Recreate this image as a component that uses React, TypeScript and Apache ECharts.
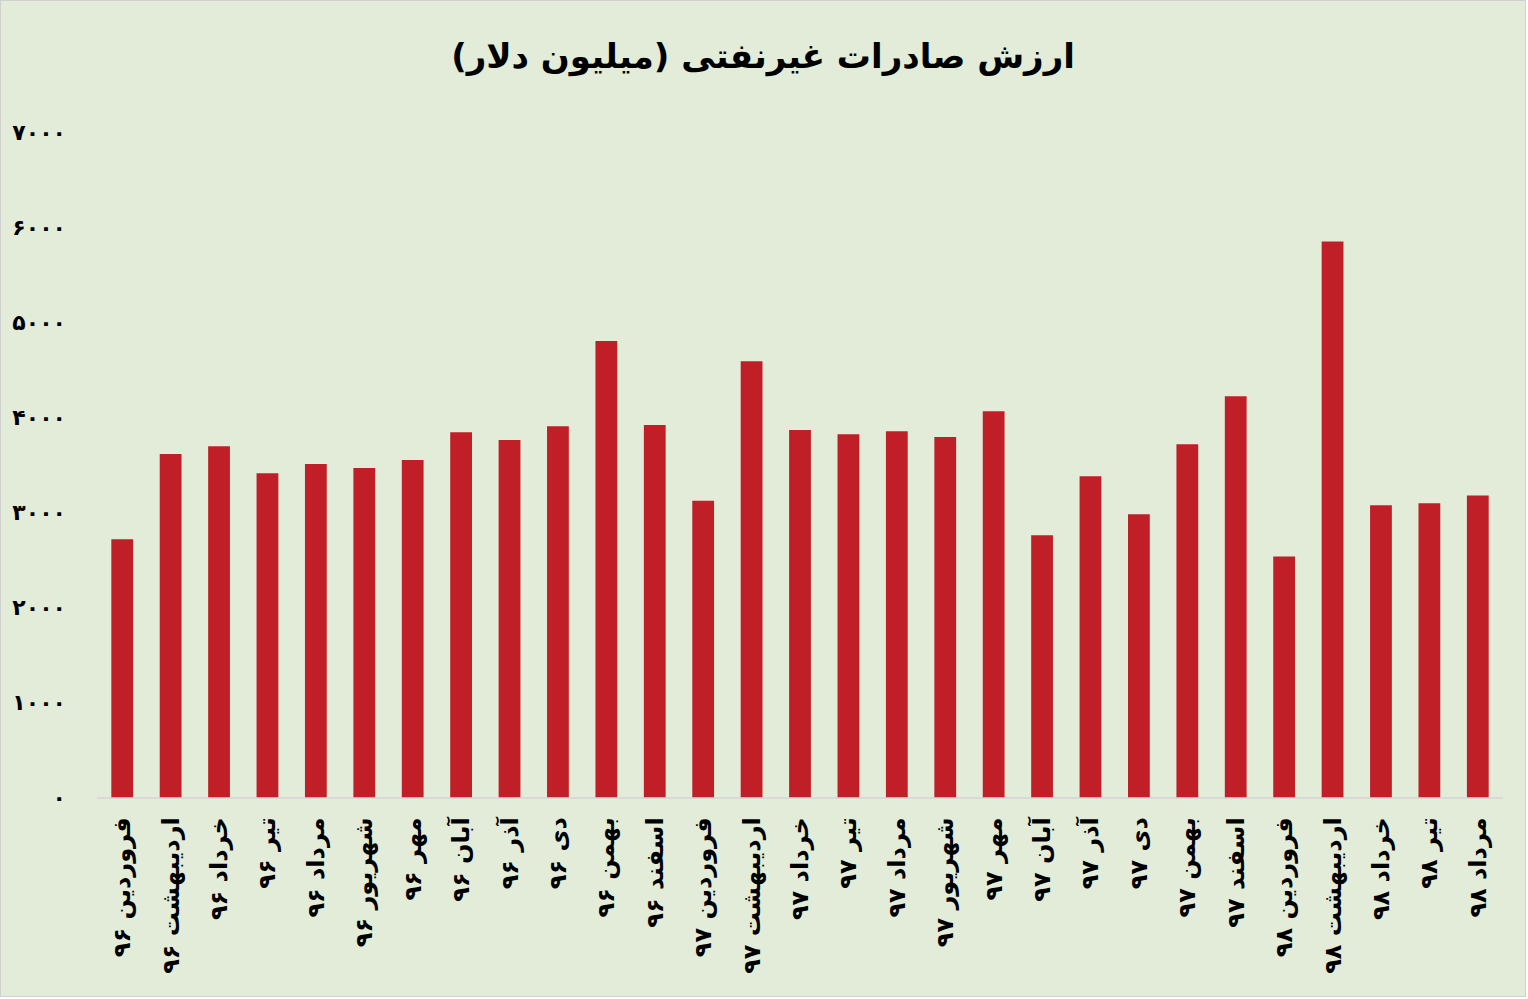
import React, { useEffect, useRef } from "react";
import * as echarts from "echarts";

const categories: string[] = [
  "فروردین ۹۶", "اردیبهشت ۹۶", "خرداد ۹۶", "تیر ۹۶", "مرداد ۹۶", "شهریور ۹۶",
  "مهر ۹۶", "آبان ۹۶", "آذر ۹۶", "دی ۹۶", "بهمن ۹۶", "اسفند ۹۶",
  "فروردین ۹۷", "اردیبهشت ۹۷", "خرداد ۹۷", "تیر ۹۷", "مرداد ۹۷", "شهریور ۹۷",
  "مهر ۹۷", "آبان ۹۷", "آذر ۹۷", "دی ۹۷", "بهمن ۹۷", "اسفند ۹۷",
  "فروردین ۹۸", "اردیبهشت ۹۸", "خرداد ۹۸", "تیر ۹۸", "مرداد ۹۸",
];

const values: number[] = [
  2717, 3616, 3697, 3412, 3510, 3468, 3553, 3845, 3763, 3908, 4807, 3922,
  3124, 4593, 3869, 3823, 3855, 3795, 4066, 2759, 3381, 2980, 3718, 4224,
  2537, 5854, 3075, 3096, 3180,
];

const yTicks: number[] = [0, 1000, 2000, 3000, 4000, 5000, 6000, 7000];

const titleText = "ارزش صادرات غیرنفتی (میلیون دلار)";

const toFa = (v: number | string) =>
  String(v).replace(/\d/g, (d) => "۰۱۲۳۴۵۶۷۸۹"[Number(d)]);

const FONT = "'DejaVu Sans', sans-serif";

export default function App() {
  const ref = useRef<HTMLDivElement>(null);

  useEffect(() => {
    document.body.style.margin = "0";
    const chart = echarts.init(ref.current as HTMLDivElement, null, { renderer: "svg" });
    chart.setOption({
      animation: false,
      backgroundColor: "transparent",
      title: {
        text: titleText,
        left: "center",
        top: 33,
        textStyle: {
          fontFamily: FONT,
          fontSize: 34,
          fontWeight: "bold",
          color: "#000",
        },
      },
      grid: {
        left: 97,
        right: 23,
        top: 131.7,
        bottom: 198.7,
        containLabel: false,
      },
      xAxis: {
        type: "category",
        data: categories,
        axisTick: { show: false },
        axisLine: { lineStyle: { color: "#d9d9d9", width: 2 } },
        axisLabel: {
          interval: 0,
          rotate: 90,
          margin: 20,
          fontFamily: FONT,
          fontSize: 24,
          fontWeight: "bold",
          color: "#000",
        },
      },
      yAxis: {
        type: "value",
        min: yTicks[0],
        max: yTicks[yTicks.length - 1],
        interval: yTicks[1] - yTicks[0],
        axisLine: { show: false },
        axisTick: { show: false },
        splitLine: { show: false },
        axisLabel: {
          margin: 32,
          fontFamily: FONT,
          fontSize: 22,
          fontWeight: "bold",
          color: "#000",
          formatter: (v: number) => toFa(v),
        },
      },
      series: [
        {
          type: "bar",
          data: values,
          barWidth: "45%",
          itemStyle: { color: "#c11f27" },
        },
      ],
    });
    return () => chart.dispose();
  }, []);

  return (
    <div
      ref={ref}
      style={{
        position: "absolute",
        left: 0,
        top: 0,
        width: 1526,
        height: 997,
        boxSizing: "border-box",
        border: "1px solid #d0d0d0",
        background: "#e2ecd9",
      }}
    />
  );
}
